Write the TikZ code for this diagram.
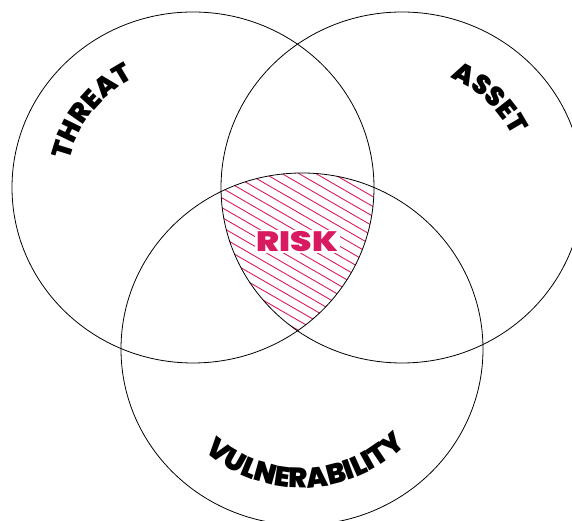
\documentclass[tikz,border=0pt]{standalone}
\usepackage{fontspec}
\IfFontExistsTF{Poppins Black}
  {\newfontfamily\heavy{Poppins Black}}
  {\newfontfamily\heavy{Poppins}[UprightFont=* Bold]}
\usetikzlibrary{decorations.text,calc}
\definecolor{riskred}{HTML}{D81B60}
\tikzset{
  venn/.style={draw=black, line width=0.8pt},
  hatchline/.style={draw=riskred, line width=0.9pt},
  curvelabel/.style={decorate, decoration={text along path, text align=center, text color=black, text={#1}}},
}
\begin{document}
\begin{tikzpicture}[x=1pt,y=1pt]
\useasboundingbox (0,0) rectangle (572,521);
\clip (0,0) rectangle (572,521);
\coordinate (cL) at (193,333.5);
\coordinate (cR) at (402,333.5);
\coordinate (cB) at (302,172);
% hatching of the common region
\begin{scope}
  \clip (cL) ellipse [x radius=181, y radius=175.5];
  \clip (cR) ellipse [x radius=181, y radius=175.5];
  \clip (cB) ellipse [x radius=181, y radius=176];
  \begin{scope}[shift={(297,270)}, rotate=-30]
    \foreach \i in {-14,...,14} \draw[hatchline] (-160,\i*8.5) -- (160,\i*8.5);
  \end{scope}
\end{scope}
\node[fill=white, inner sep=1.5pt, text=riskred, xscale=1.22, font=\heavy\fontsize{28}{28}\selectfont] (risk) at (297.5,279.5) {RISK};
% circles
\draw[venn] (cL) ellipse [x radius=181, y radius=175.5];
\draw[venn] (cR) ellipse [x radius=181, y radius=175.5];
\draw[venn] (cB) ellipse [x radius=181, y radius=176];
% curved labels
\path[curvelabel={|\heavy\fontsize{27}{27}\selectfont|THREAT}]
  ($(cL)+(175:126.7 and 123)$) arc[start angle=175, end angle=110, x radius=126.7, y radius=123];
\path[curvelabel={|\heavy\fontsize{27}{27}\selectfont|ASSET}]
  ($(cR)+(77:122.5 and 119)$) arc[start angle=77, end angle=15, x radius=122.5, y radius=119];
\path[curvelabel={|\heavy\fontsize{28}{28}\selectfont|VULNERABILITY}]
  ($(cB)+(200:143 and 139)$) arc[start angle=200, end angle=344, x radius=143, y radius=139];
\end{tikzpicture}
\end{document}
